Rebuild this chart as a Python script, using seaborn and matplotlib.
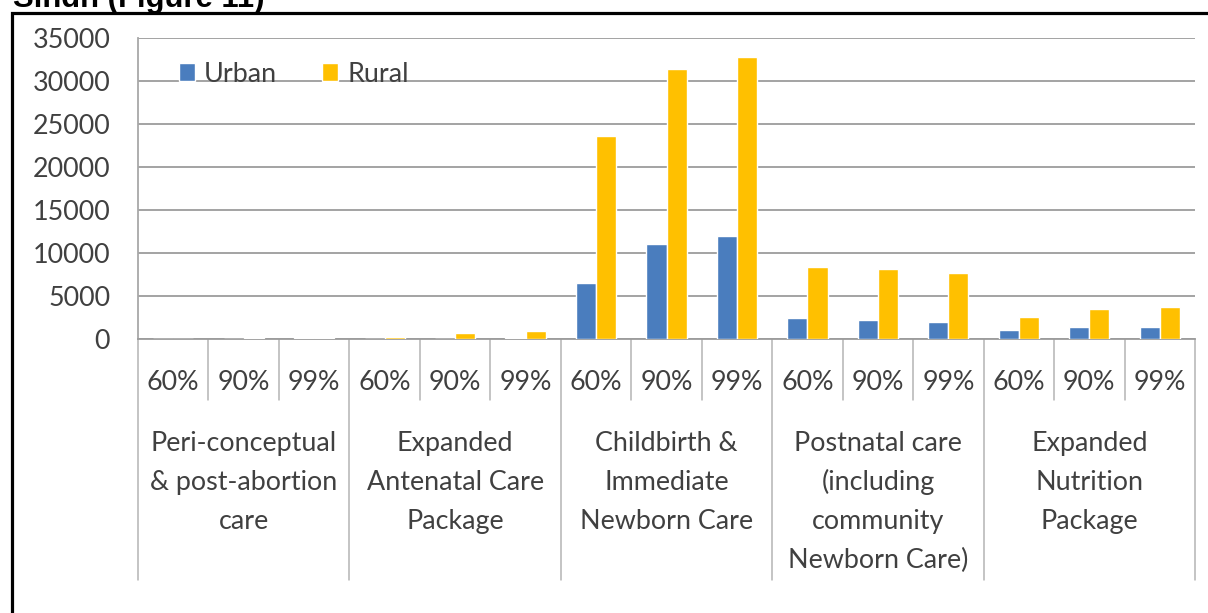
import matplotlib
matplotlib.use("Agg")
import matplotlib.pyplot as plt
from matplotlib.patches import Rectangle
import matplotlib.transforms as mtransforms
import numpy as np
import pandas as pd
import seaborn as sns

# Intervention packages (multi-line axis labels) and coverage levels
packages = [
    ["Peri-conceptual", "& post-abortion", "care"],
    ["Expanded", "Antenatal Care", "Package"],
    ["Childbirth &", "Immediate", "Newborn Care"],
    ["Postnatal care", "(including", "community", "Newborn Care)"],
    ["Expanded", "Nutrition", "Package"],
]
coverage = ["60%", "90%", "99%"]

# Values per package x coverage, in package order
urban = [20, 40, 110,
         30, 50, 60,
         6550, 11000, 11950,
         2400, 2200, 1950,
         1050, 1350, 1350]
rural = [40, 170, 140,
         270, 720, 930,
         23600, 31400, 32800,
         8400, 8150, 7650,
         2600, 3450, 3750]

URBAN_C = "#4A7DBE"
RURAL_C = "#FFC000"
TEXT_C = "#404040"
GRID_C = "#9C9C9C"
SEP_C = "#B4B4B4"

W, H = 1208, 613
sns.set_style("white")
plt.rcParams["font.family"] = ["Lato", "DejaVu Sans"]

slots = [f"{i}|{c}" for i in range(len(packages)) for c in coverage]
df = pd.DataFrame({
    "slot": slots * 2,
    "Area": ["Urban"] * len(slots) + ["Rural"] * len(slots),
    "value": urban + rural,
})

fig = plt.figure(figsize=(W / 100, H / 100), dpi=100)
ax = fig.add_axes([138 / W, 1 - 339 / H, (1195 - 138) / W, (339 - 38) / H])

sns.barplot(data=df, x="slot", y="value", hue="Area", order=slots,
            hue_order=["Urban", "Rural"], palette=[URBAN_C, RURAL_C],
            width=0.57, saturation=1, errorbar=None, ax=ax, zorder=3)

ax.set_xlim(-0.5, len(slots) - 0.5)
ax.set_ylim(0, 35000)
ax.set_yticks(np.arange(0, 35001, 5000))
ax.set_yticklabels([str(v) for v in range(0, 35001, 5000)],
                   fontsize=19.4, color=TEXT_C)
ax.tick_params(axis="y", length=7, width=1.2, color=GRID_C, pad=13)
ax.yaxis.grid(True, color=GRID_C, linewidth=1.3, zorder=0)
ax.set_axisbelow(True)
ax.set_xticks([])
ax.set_xlabel("")
ax.set_ylabel("")
for side in ("top", "right"):
    ax.spines[side].set_visible(False)
ax.spines["left"].set_color("#A8A8A8")
ax.spines["left"].set_linewidth(1.3)
ax.spines["bottom"].set_color(GRID_C)
ax.spines["bottom"].set_linewidth(1.3)

# Category axis: coverage labels, group labels, separators
trans = mtransforms.blended_transform_factory(ax.transData, ax.transAxes)
ph = 339 - 38
def ay(py):
    return (339 - py) / ph

for k in range(len(slots) + 1):
    bottom = 580 if k % 3 == 0 else 400
    ax.plot([k - 0.5, k - 0.5], [0, ay(bottom)], transform=trans,
            color=SEP_C, linewidth=1.1, clip_on=False)

for k, s in enumerate(slots):
    ax.text(k, ay(390), s.split("|")[1], transform=trans, ha="center",
            va="baseline", fontsize=19.4, color=TEXT_C)

for g, lines in enumerate(packages):
    cx = g * 3 + 1
    for j, line in enumerate(lines):
        ax.text(cx, ay(451 + 39 * j), line, transform=trans, ha="center",
                va="baseline", fontsize=19.4, color=TEXT_C)

leg = ax.legend(loc="center left", bbox_to_anchor=(41 / 1057, ay(74)),
                frameon=False, ncol=2, handlelength=0.6, handleheight=0.6,
                handletextpad=0.33, columnspacing=1.67, borderpad=0,
                borderaxespad=0, fontsize=19.4)
for t in leg.get_texts():
    t.set_color(TEXT_C)

# Outer frame and caption
fig.add_artist(Rectangle((11.5 / W, -0.2), 2.0, 1.2 - 12.5 / H,
                         transform=fig.transFigure, fill=False,
                         edgecolor="black", linewidth=2.3, clip_on=False))
fig.text(13 / W, 1 - 7 / H, "Sindh (Figure 11)", fontsize=22.3,
         fontweight="bold", family=["Liberation Sans", "DejaVu Sans"],
         va="baseline", ha="left", color="black")

fig.savefig("out.png", dpi=100)
